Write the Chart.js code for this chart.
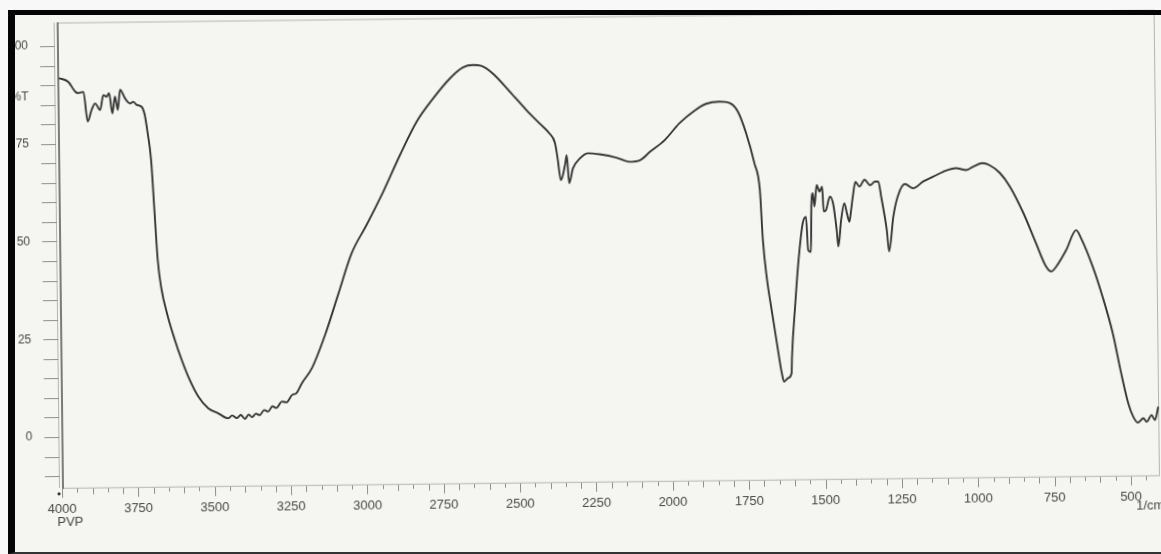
<!DOCTYPE html>
<html>
<head>
<meta charset="utf-8">
<script src="https://cdn.jsdelivr.net/npm/chart.js@4.4.1/dist/chart.umd.min.js"></script>
<style>
html,body{margin:0;padding:0;background:#f7f8f7;width:1161px;height:554px;overflow:hidden;}
#paper{position:absolute;left:8px;top:10px;width:1153px;height:544px;background:#f5f6f1;}
#c{position:absolute;left:0;top:0;transform:rotate(-0.66deg);transform-origin:62px 488px;}
#frame{position:absolute;left:8px;top:10px;width:1153px;height:544px;box-sizing:border-box;border-left:7px solid #050505;border-top:5px solid #050505;border-bottom:2px solid #333;}
</style>
</head>
<body>
<div id="paper"></div>
<canvas id="c" width="1161" height="554"></canvas>
<div id="frame"></div>
<script>
// Wavenumber (1/cm) and %T
const wavenumbers = [
  3995,3964,3942,3932,3915,3902,3889,3877,3861,3850,3839,3831,3821,3812,3803,3795,3779,3763,3752,3741,
  3725,3715,3706,3696,3687,3678,3668,3647,3625,3603,3582,3550,3518,3486,3453,3440,3425,3412,3398,3386,
  3375,3362,3350,3335,3322,3308,3295,3277,3262,3244,3228,3211,3177,3133,3089,3043,2993,2937,2881,2825,
  2770,2714,2672,2639,2612,2574,2519,2465,2423,2391,2373,2365,2355,2341,2335,2328,2315,2292,2265,2227,
  2172,2130,2095,2062,2013,1965,1915,1877,1833,1799,1773,1747,1721,1704,1696,1685,1670,1654,1639,1632,
  1619,1607,1605,1593,1581,1565,1554,1548,1539,1536,1531,1526,1518,1509,1500,1496,1488,1475,1464,1454,
  1449,1439,1428,1420,1412,1406,1400,1391,1378,1361,1343,1327,1316,1307,1290,1283,1268,1253,1229,1202,
  1169,1136,1104,1061,1028,1006,974,952,917,885,842,802,770,753,737,703,670,654,617,586,
  554,528,506,490,475,457,446,430,419,408
];
const transmittance = [
  91.8,90.8,88.3,87.9,88.2,80.6,83.5,85.2,83.5,87.3,86.9,87.8,82.6,86.9,83.5,88.6,86.4,85.1,85.5,84.7,
  84.2,82.1,77.4,70.6,57.8,45.0,38.1,30.5,24.5,19.3,15.0,9.9,6.9,5.6,4.3,5.0,4.3,5.1,4.1,5.2,
  4.5,5.4,5.0,6.3,5.9,7.2,6.8,8.4,8.2,10.0,10.6,13.0,16.9,25.3,35.5,46.1,53.3,61.8,71.1,79.6,
  85.5,90.6,93.3,93.9,93.7,91.7,87.0,82.2,78.8,76.2,73.7,69.8,64.2,68.1,70.6,63.4,67.2,69.7,71.0,70.7,
  69.8,68.7,69.1,71.2,74.2,78.4,81.6,83.3,83.8,83.4,81.2,75.7,68.0,61.1,48.3,38.9,30.4,21.9,14.2,12.0,
  12.9,14.1,18.4,31.2,42.3,52.5,54.1,45.6,45.1,57.1,60.1,56.7,62.2,60.5,61.8,55.4,55.8,59.2,57.1,50.7,
  46.4,53.2,57.5,54.9,52.7,55.7,59.1,62.9,61.7,63.4,62.0,62.9,62.9,59.0,50.5,45.0,53.9,59.0,62.2,61.1,
  62.8,64.0,65.2,66.1,65.6,66.4,67.3,66.8,64.7,61.2,54.4,46.7,40.7,39.4,40.6,44.9,49.9,47.8,40.5,32.8,
  23.4,13.2,5.5,2.0,0.5,1.6,0.7,2.4,1.1,4.5
];
const xTickLabels = [4000,3750,3500,3250,3000,2750,2500,2250,2000,1750,1500,1250,1000,750,500];
const yTickLabels = [0,25,50,75,100];
const yAxisTitle = '%T';
const yAxisTitleAt = 87;
const xUnitLabel = '1/cm';
const sampleLabel = 'PVP';
const xRange = [405, 4000];
const yRange = [-13, 106];
const xMinorStep = 50, xMajorStep = 250, yMinorStep = 5, yTickFrom = -10, yTickTo = 100;

const FONT = 'Liberation Sans, Arial, sans-serif';
const TEXT = '#474747';

const framePlugin = {
  id: 'framePlugin',
  beforeDatasetsDraw(chart) {
    const {ctx, chartArea: a, scales: {x, y}} = chart;
    ctx.save();
    // frame
    ctx.strokeStyle = '#b4b4b0'; ctx.lineWidth = 1;
    ctx.beginPath();
    ctx.moveTo(a.left, a.top + 0.5); ctx.lineTo(a.right, a.top + 0.5);
    ctx.moveTo(a.right - 0.5, a.top); ctx.lineTo(a.right - 0.5, a.bottom);
    ctx.moveTo(a.left, a.bottom + 0.5); ctx.lineTo(a.right, a.bottom + 0.5);
    ctx.moveTo(a.left - 2.5, a.top); ctx.lineTo(a.left - 2.5, a.bottom);
    ctx.stroke();
    ctx.strokeStyle = '#5c5c5c'; ctx.lineWidth = 1.6;
    ctx.beginPath(); ctx.moveTo(a.left + 1, a.top); ctx.lineTo(a.left + 1, a.bottom + 1); ctx.stroke();
    // y ticks
    ctx.strokeStyle = '#8e8e8e'; ctx.lineWidth = 1;
    ctx.beginPath();
    for (let v = yTickFrom; v <= yTickTo; v += yMinorStep) {
      const py = Math.round(y.getPixelForValue(v)) + 0.5;
      ctx.moveTo(a.left - 17, py); ctx.lineTo(a.left - 2, py);
    }
    ctx.stroke();
    // x ticks
    ctx.beginPath();
    for (let v = xRange[1]; v >= xRange[0]; v -= xMinorStep) {
      const px = Math.round(x.getPixelForValue(v)) + 0.5;
      const len = v % xMajorStep === 0 ? 9 : (v % 100 === 0 ? 6 : 4);
      ctx.moveTo(px, a.bottom + 1); ctx.lineTo(px, a.bottom + 1 + len);
    }
    ctx.stroke();
    ctx.fillStyle = '#333';
    ctx.beginPath(); ctx.arc(x.getPixelForValue(xRange[1]) - 3, a.bottom + 6, 1.6, 0, Math.PI * 2); ctx.fill();
    // y tick labels, positioned through the y scale
    ctx.fillStyle = TEXT;
    ctx.font = '12px ' + FONT;
    ctx.textAlign = 'right'; ctx.textBaseline = 'middle';
    yTickLabels.forEach(v => ctx.fillText(String(v), a.left - 29, y.getPixelForValue(v)));
    ctx.fillText(yAxisTitle, a.left - 29, y.getPixelForValue(yAxisTitleAt));
    // extra texts
    ctx.font = '13px ' + FONT;
    ctx.textAlign = 'center';
    ctx.fillText(xUnitLabel, x.getPixelForValue(500) + 19, a.bottom + 31);
    ctx.fillText(sampleLabel, x.getPixelForValue(4000) + 8, a.bottom + 35);
    ctx.restore();
  }
};

const points = wavenumbers.map((w, i) => ({x: w, y: transmittance[i]}));

new Chart(document.getElementById('c').getContext('2d'), {
  type: 'line',
  data: {
    datasets: [{
      label: 'PVP',
      data: points,
      borderColor: '#363636',
      borderWidth: 1.9,
      pointRadius: 0,
      cubicInterpolationMode: 'monotone',
      fill: false
    }]
  },
  options: {
    responsive: false,
    animation: false,
    devicePixelRatio: 1,
    layout: {padding: {top: 22.5, right: 1, left: 0, bottom: 0}},
    plugins: {legend: {display: false}, tooltip: {enabled: false}},
    scales: {
      x: {
        type: 'linear', reverse: true, min: xRange[0], max: xRange[1],
        grid: {display: false, drawTicks: false}, border: {display: false},
        afterBuildTicks: s => { s.ticks = xTickLabels.map(v => ({value: v})); },
        afterFit: s => { s.height = 66.2; },
        ticks: {autoSkip: false, maxRotation: 0, minRotation: 0, padding: 14, color: TEXT,
                font: {family: FONT, size: 13}, callback: v => String(v)}
      },
      y: {
        type: 'linear', min: yRange[0], max: yRange[1],
        grid: {display: false, drawTicks: false}, border: {display: false},
        ticks: {display: false},
        afterFit: s => { s.width = 62; }
      }
    }
  },
  plugins: [framePlugin]
});
</script>
</body>
</html>
